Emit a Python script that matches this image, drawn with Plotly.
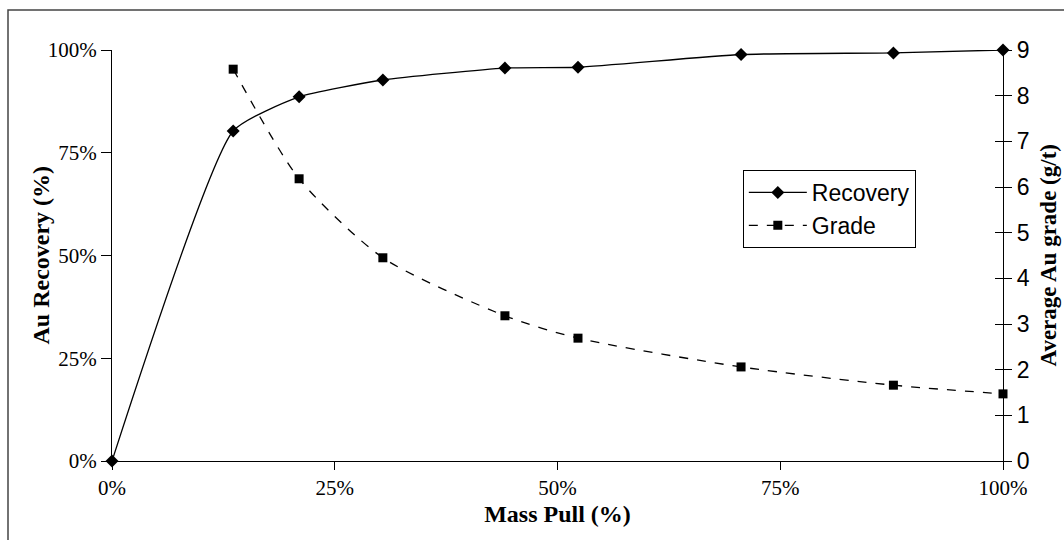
import plotly.graph_objects as go

mass_pull = [0.0, 0.136, 0.210, 0.304, 0.441, 0.523, 0.706, 0.877, 1.0]
recovery = [0.0, 0.803, 0.886, 0.927, 0.956, 0.958, 0.989, 0.993, 1.0]
grade_x = [0.136, 0.210, 0.304, 0.441, 0.523, 0.706, 0.877, 1.0]
grade = [8.58, 6.18, 4.45, 3.18, 2.69, 2.06, 1.66, 1.47]

serif = "Liberation Serif, Times New Roman, serif"
sans = "Liberation Sans, Arial, sans-serif"

fig = go.Figure()
fig.add_trace(go.Scatter(
    x=mass_pull, y=recovery, name="Recovery", mode="lines+markers",
    line=dict(color="black", width=1.3, shape="spline", smoothing=0.5),
    marker=dict(symbol="diamond", size=10, color="black"),
    cliponaxis=False, yaxis="y"))
fig.add_trace(go.Scatter(
    x=grade_x, y=grade, name="Grade", mode="lines+markers",
    line=dict(color="black", width=1.3, dash="dash", shape="spline", smoothing=0.7),
    marker=dict(symbol="square", size=9, color="black"),
    cliponaxis=False, yaxis="y2"))
fig.add_trace(go.Scatter(
    x=[1.0], y=[0], mode="markers", marker=dict(opacity=0), showlegend=False,
    hoverinfo="skip", yaxis="y3"))

fig.update_layout(
    width=1064, height=540,
    margin=dict(l=112, r=61, t=50, b=79),
    paper_bgcolor="white", plot_bgcolor="white",
    showlegend=True,
    legend=dict(x=0.708, y=0.708, xanchor="left", yanchor="top",
                bordercolor="black", borderwidth=1, bgcolor="white",
                font=dict(family=sans, size=23, color="black"),
                itemwidth=58, tracegroupgap=0),
    xaxis=dict(range=[0, 1], tickvals=[0, 0.25, 0.5, 0.75, 1.0],
               ticktext=["0%", "25%", "50%", "75%", "100%"],
               showgrid=False, zeroline=False, showline=True, linecolor="black",
               linewidth=1.3, ticks="outside", ticklen=8, tickcolor="black",
               tickfont=dict(family=serif, size=21, color="black"),
               title=dict(text="<b>Mass Pull (%)</b>", font=dict(family=serif, size=24, color="black"), standoff=5)),
    yaxis=dict(range=[0, 1], tickvals=[0, 0.25, 0.5, 0.75, 1.0],
               ticktext=["0%", "25%", "50%", "75%", "100%"],
               showgrid=False, zeroline=False, showline=True, linecolor="black",
               linewidth=1.3, ticks="outside", ticklen=10, tickcolor="black",
               tickfont=dict(family=serif, size=21, color="black")),
    yaxis2=dict(range=[0, 9], dtick=1, overlaying="y", side="right",
                showgrid=False, zeroline=False, showline=True, linecolor="black",
                linewidth=1.3, ticks="outside", ticklen=8, tickcolor="black",
                tickfont=dict(family=sans, size=23, color="black")),
    yaxis3=dict(range=[0, 9], dtick=1, overlaying="y", side="right", anchor="x",
                showgrid=False, zeroline=False, showline=False,
                ticks="inside", ticklen=8, tickcolor="black", showticklabels=False),
    annotations=[
        dict(text="<b>Au Recovery (%)</b>", xref="paper", yref="paper",
             x=(40 - 112) / 891, y=0.5, xanchor="center", yanchor="middle",
             textangle=-90, showarrow=False,
             font=dict(family=serif, size=24, color="black")),
        dict(text="<b>Average Au grade (g/t)</b>", xref="paper", yref="paper",
             x=(1048 - 112) / 891, y=0.5, xanchor="center", yanchor="middle",
             textangle=-90, showarrow=False,
             font=dict(family=serif, size=23, color="black")),
    ],
    shapes=[dict(type="rect", xref="paper", yref="paper",
                 x0=-104 / 891, x1=1.1, y0=-0.3, y1=1 + 40 / 411,
                 line=dict(color="#444", width=1.5), layer="below")],
)

fig.write_html("out.html")
